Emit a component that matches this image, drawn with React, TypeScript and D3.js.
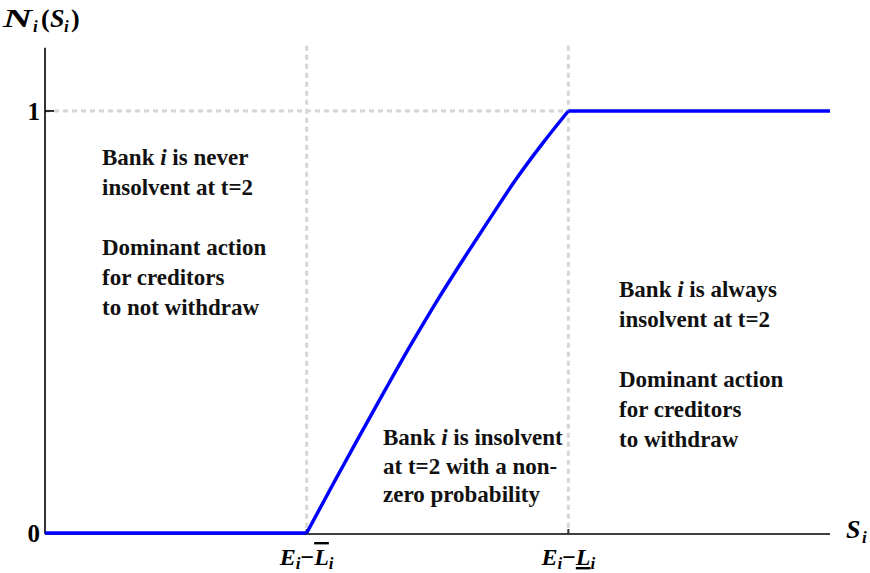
import React from "react";
import * as d3 from "d3";

// ---- data ----
const xDomain = [-1, 2];
const yDomain = [0, 1.15];
const flatLowX = [-1, 0];
const flatLowY = [0, 0];
const riseX = [0, 0.1, 0.2, 0.3, 0.4, 0.5, 0.6, 0.7, 0.8, 0.9, 1];
const riseY = [0, 0.115, 0.228, 0.339, 0.448, 0.552, 0.65, 0.745, 0.838, 0.922, 1];
const flatHighX = [1, 2];
const flatHighY = [1, 1];
const yTicks = [0, 1];
const yTickLabels = ["0", "1"];
const xTicks = [0, 1];
const leftLines = ["Bank |i| is never", "insolvent at t=2", "", "Dominant action", "for creditors", "to not withdraw"];
const midLines = ["Bank |i| is insolvent", "at t=2 with a non-", "zero probability"];
const rightLines = ["Bank |i| is always", "insolvent at t=2", "", "Dominant action", "for creditors", "to withdraw"];

const W = 870;
const H = 573;
const FONT = "Times New Roman, Liberation Serif, Tinos, DejaVu Serif, serif";

function RichLine({ s }: { s: string }) {
  const parts = s.split("|");
  return (
    <>
      {parts.map((p, i) => (
        <tspan key={i} fontStyle={i % 2 === 1 ? "italic" : "normal"}>
          {p}
        </tspan>
      ))}
    </>
  );
}

function Block({ lines, x, y0, dy }: { lines: string[]; x: number; y0: number; dy: number }) {
  return (
    <g>
      {lines.map((l, i) =>
        l ? (
          <text key={i} x={x} y={y0 + i * dy} style={{ fontFamily: FONT }} fontWeight="bold" fontSize={23} fill="#111">
            <RichLine s={l} />
          </text>
        ) : null
      )}
    </g>
  );
}

function TickLabel({ cx, deco }: { cx: number; deco: "overline" | "underline" }) {
  const fs = 24;
  const sub = 17;
  const base = 565;
  return (
    <text x={cx} y={base} textAnchor="middle" style={{ fontFamily: FONT }} fontWeight="bold" fontSize={fs}>
      <tspan fontStyle="italic">E</tspan>
      <tspan fontStyle="italic" fontSize={sub} dy={4}>i</tspan>
      <tspan dy={-4}>{"\u2212"}</tspan>
      <tspan fontStyle="italic" style={{ textDecoration: deco }}>L</tspan>
      <tspan fontStyle="italic" fontSize={sub} dy={4}>i</tspan>
    </text>
  );
}

export default function App() {
  const x = d3.scaleLinear().domain(xDomain).range([45, 830]);
  const y = d3.scaleLinear().domain(yDomain).range([533, 533 - 1.15 * 422]);
  const mk = (xs: number[], ys: number[], curve: d3.CurveFactory) =>
    d3
      .line<number>()
      .x((d) => x(d))
      .y((_, i) => y(ys[i]))
      .curve(curve)(xs) || "";
  const x0 = x(xDomain[0]);
  const x1 = x(xDomain[1]);
  const yTop = y(yDomain[1]);
  const yBase = y(0);
  const f = { fontFamily: FONT };
  return (
    <svg width={W} height={H} style={{ position: "absolute", left: 0, top: 0, background: "#fff", fontFamily: FONT }}>
      {/* gridlines */}
      {xTicks.map((t) => (
        <line key={"gx" + t} x1={x(t)} x2={x(t)} y1={yTop - 2} y2={yBase} stroke="#d6d6d6" strokeWidth={3} strokeDasharray="5,4" />
      ))}
      <line x1={x0} x2={x(1)} y1={y(1)} y2={y(1)} stroke="#d6d6d6" strokeWidth={3} strokeDasharray="5,4" />
      {/* axes */}
      <line x1={x0} x2={x0} y1={yTop} y2={yBase + 1} stroke="#000" strokeWidth={1.6} />
      <line x1={x0} x2={x1} y1={yBase + 1} y2={yBase + 1} stroke="#000" strokeWidth={1.6} />
      {yTicks.map((t) => (
        <line key={"ty" + t} x1={x0} x2={x0 + 9} y1={y(t)} y2={y(t)} stroke="#000" strokeWidth={1.6} />
      ))}
      {xTicks.map((t) => (
        <line key={"tx" + t} x1={x(t)} x2={x(t)} y1={yBase + 1} y2={yBase - 4} stroke="#333" strokeWidth={2} />
      ))}
      {yTicks.map((t, i) => (
        <text key={"ly" + t} x={x0 - 5} y={y(t)} dy="0.35em" textAnchor="end" style={f} fontWeight="bold" fontSize={25}>
          {yTickLabels[i]}
        </text>
      ))}
      {/* curve */}
      <path d={mk(flatLowX, flatLowY, d3.curveLinear)} fill="none" stroke="#0000ff" strokeWidth={3.5} />
      <path d={mk(riseX, riseY, d3.curveMonotoneX)} fill="none" stroke="#0000ff" strokeWidth={3.5} strokeLinejoin="round" />
      <path d={mk(flatHighX, flatHighY, d3.curveLinear)} fill="none" stroke="#0000ff" strokeWidth={3.5} />
      {/* x tick labels */}
      <TickLabel cx={x(xTicks[0])} deco="overline" />
      <TickLabel cx={x(xTicks[1])} deco="underline" />
      {/* y axis title */}
      <g style={f} fontWeight="bold" fontSize={26}>
        <text x={3} y={27} fontStyle="italic" textLength={29} lengthAdjust="spacingAndGlyphs">N</text>
        <text x={33} y={32} fontStyle="italic" fontSize={17}>i</text>
        <text x={41} y={27}>(</text>
        <text x={50} y={27} fontStyle="italic">S</text>
        <text x={64} y={32} fontStyle="italic" fontSize={17}>i</text>
        <text x={71} y={27}>)</text>
      </g>
      {/* x axis title */}
      <g style={f} fontWeight="bold" fontSize={26} fontStyle="italic">
        <text x={846} y={538}>S</text>
        <text x={862} y={543} fontSize={17}>i</text>
      </g>
      {/* annotations */}
      <Block lines={leftLines} x={102} y0={165} dy={30} />
      <Block lines={midLines} x={383} y0={445} dy={28.5} />
      <Block lines={rightLines} x={619} y0={297} dy={30} />
    </svg>
  );
}
